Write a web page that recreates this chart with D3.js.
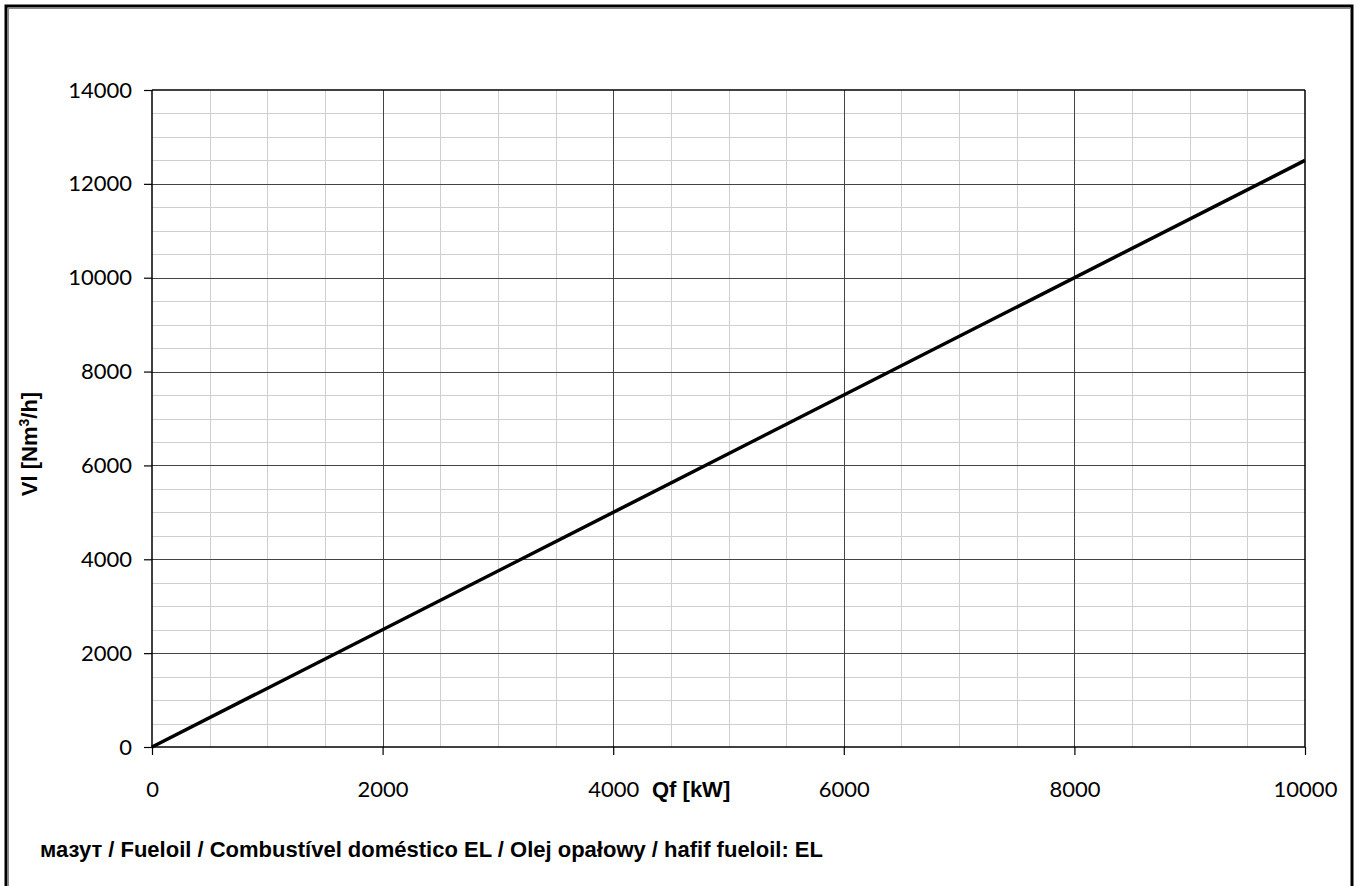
<!DOCTYPE html>
<html>
<head>
<meta charset="utf-8">
<script src="https://cdn.jsdelivr.net/npm/d3@7"></script>
<style>
html,body{margin:0;padding:0;background:#fff;}
svg{display:block;}
</style>
</head>
<body>
<svg id="chart" width="1359" height="886"></svg>
<script>
// Data
const qf = [0, 10000];            // Qf [kW]
const vl = [0, 12500];            // Vl [Nm3/h]
const xTicks = [0, 2000, 4000, 6000, 8000, 10000];
const yTicks = [0, 2000, 4000, 6000, 8000, 10000, 12000, 14000];
const xMinor = d3.range(0, 10001, 500);
const yMinor = d3.range(0, 14001, 500);
const xTitle = "Qf [kW]";
const footer = "мазут / Fueloil / Combustível doméstico EL / Olej opałowy / hafif fueloil: EL";

const svg = d3.select("#chart");
const W = 1359, H = 886;
const m = {left:152, right:1305, top:90, bottom:747};

const x = d3.scaleLinear().domain([0,10000]).range([m.left, m.right]);
const y = d3.scaleLinear().domain([0,14000]).range([m.bottom, m.top]);

// outer frame
svg.append("rect").attr("x",6).attr("y",6).attr("width",1346).attr("height",H+20)
  .attr("fill","none").attr("stroke","#000").attr("stroke-width",3);
svg.append("line").attr("x1",8.5).attr("x2",8.5).attr("y1",8).attr("y2",H)
  .attr("stroke","#888").attr("stroke-width",1);
svg.append("line").attr("x1",8).attr("x2",1350).attr("y1",8.5).attr("y2",8.5)
  .attr("stroke","#888").attr("stroke-width",1);

const g = svg.append("g");
// minor grid
g.selectAll(".xminor").data(xMinor.filter(v => v % 2000 !== 0)).join("line")
  .attr("x1", d => Math.round(x(d))+0.5).attr("x2", d => Math.round(x(d))+0.5)
  .attr("y1", m.top).attr("y2", m.bottom)
  .attr("stroke","#cfcfcf").attr("stroke-width",1);
g.selectAll(".yminor").data(yMinor.filter(v => v % 2000 !== 0)).join("line")
  .attr("y1", d => Math.round(y(d))+0.5).attr("y2", d => Math.round(y(d))+0.5)
  .attr("x1", m.left).attr("x2", m.right)
  .attr("stroke","#cfcfcf").attr("stroke-width",1);
// major grid
g.selectAll(".xmajor").data(xTicks.slice(1,-1)).join("line")
  .attr("x1", d => Math.round(x(d))+0.5).attr("x2", d => Math.round(x(d))+0.5)
  .attr("y1", m.top).attr("y2", m.bottom)
  .attr("stroke","#444").attr("stroke-width",1);
g.selectAll(".ymajor").data(yTicks.slice(1,-1)).join("line")
  .attr("y1", d => Math.round(y(d))+0.5).attr("y2", d => Math.round(y(d))+0.5)
  .attr("x1", m.left).attr("x2", m.right)
  .attr("stroke","#444").attr("stroke-width",1);
// plot border top & right
g.append("line").attr("x1",m.left).attr("x2",m.right).attr("y1",m.top).attr("y2",m.top)
  .attr("stroke","#000").attr("stroke-width",1.5);
g.append("line").attr("x1",m.right).attr("x2",m.right).attr("y1",m.top).attr("y2",m.bottom)
  .attr("stroke","#000").attr("stroke-width",1.5);

// axes
const xAxis = d3.axisBottom(x).tickValues(xTicks).tickSize(8).tickPadding(26).tickFormat(d3.format("d"));
const yAxis = d3.axisLeft(y).tickValues(yTicks).tickSize(8).tickPadding(12).tickFormat(d3.format("d"));
const gx = svg.append("g").attr("transform",`translate(0,${m.bottom})`).call(xAxis);
const gy = svg.append("g").attr("transform",`translate(${m.left},0)`).call(yAxis);
[gx, gy].forEach(a => {
  a.select(".domain").attr("stroke","#000").attr("stroke-width",1.5);
  a.selectAll(".tick line").attr("stroke","#000").attr("stroke-width",1.2);
  a.selectAll(".tick text").attr("fill","#000")
    .style("font-family","Lato, 'Open Sans', sans-serif").style("font-size","22px");
});
gx.select(".domain").attr("d", `M${m.left},0H${m.right}`);
gy.select(".domain").attr("d", `M0,${m.bottom}V${m.top}`);

// data line
const line = d3.line().x(d => x(d[0])).y(d => y(d[1]));
svg.append("path").datum(qf.map((v,i) => [v, vl[i]]))
  .attr("d", line).attr("fill","none").attr("stroke","#000").attr("stroke-width",3.5);

// axis titles
svg.append("text").attr("x",652).attr("y",797)
  .style("font-family","'Liberation Sans', Arial, sans-serif").style("font-weight","bold").style("font-size","22px")
  .text(xTitle);
const yt = svg.append("text").attr("transform","translate(37,444) rotate(-90)")
  .attr("text-anchor","middle")
  .style("font-family","'Liberation Sans', Arial, sans-serif").style("font-weight","bold").style("font-size","22px");
yt.append("tspan").text("Vl [Nm");
yt.append("tspan").attr("dy",-8).style("font-size","14px").text("3");
yt.append("tspan").attr("dy",8).text("/h]");

// footer
svg.append("text").attr("x",40).attr("y",857)
  .style("font-family","'Liberation Sans', Arial, sans-serif").style("font-weight","bold").style("font-size","22px")
  .text(footer);
</script>
</body>
</html>
